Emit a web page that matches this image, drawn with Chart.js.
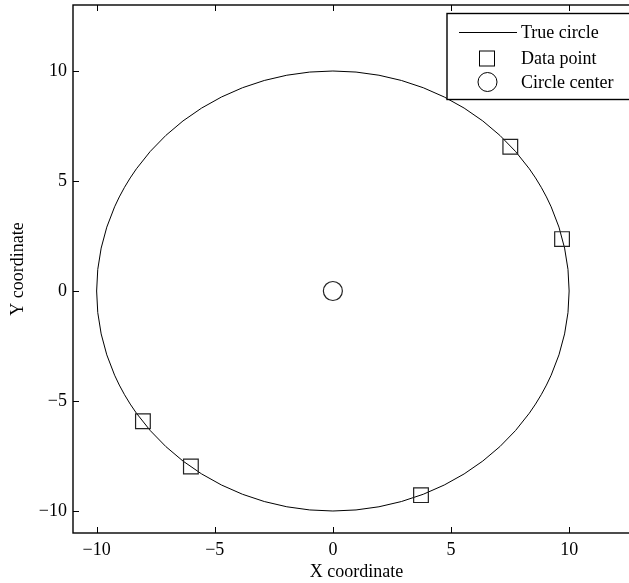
<!DOCTYPE html>
<html>
<head>
<meta charset="utf-8">
<script src="https://cdn.jsdelivr.net/npm/chart.js@4/dist/chart.umd.min.js"></script>
<style>
  html, body { margin: 0; padding: 0; background: #fff; overflow: hidden; }
  #wrap { width: 640px; min-width: 640px; height: 583px; }
  #c { width: 640px; height: 583px; display: block; }
</style>
</head>
<body>
<div id="wrap"><canvas id="c" width="640" height="583"></canvas></div>
<script>
  // measured points around the circle
  const dataX = [7.51, 9.70, -8.04, -6.01, 3.73];
  const dataY = [6.56, 2.36, -5.92, -7.98, -9.28];
  const centerX = [0];
  const centerY = [0];
  const circleRadius = 10;
  const xTicks = [-10, -5, 0, 5, 10];
  const yTicks = [-10, -5, 0, 5, 10];
  const legendLabels = ['True circle', 'Data point', 'Circle center'];

  const FONT = 'Liberation Serif';

  function fmt(v) {
    return v < 0 ? '\u2212' + Math.abs(v) : String(v);
  }

  const framePlugin = {
    id: 'frame',
    beforeDatasetsDraw: function (chart) {
      const ctx = chart.ctx;
      const xs = chart.scales.x, ys = chart.scales.y;
      const cx = xs.getPixelForValue(centerX[0]);
      const cy = ys.getPixelForValue(centerY[0]);
      const rx = xs.getPixelForValue(centerX[0] + circleRadius) - cx;
      const ry = cy - ys.getPixelForValue(centerY[0] + circleRadius);
      ctx.save();
      ctx.strokeStyle = '#000';
      ctx.lineWidth = 1;
      ctx.beginPath();
      ctx.ellipse(cx, cy, rx, ry, 0, 0, Math.PI * 2);
      ctx.stroke();
      ctx.restore();
    },
    afterDraw: function (chart) {
      const ctx = chart.ctx;
      const a = chart.chartArea;
      const xs = chart.scales.x, ys = chart.scales.y;
      ctx.save();
      ctx.strokeStyle = '#000';
      ctx.lineWidth = 1.4;
      ctx.strokeRect(a.left, a.top, a.right - a.left, a.bottom - a.top);
      ctx.lineWidth = 1;
      ctx.beginPath();
      xTicks.forEach(function (t) {
        const px = Math.round(xs.getPixelForValue(t)) + 0.5;
        ctx.moveTo(px, a.bottom); ctx.lineTo(px, a.bottom - 6);
        ctx.moveTo(px, a.top); ctx.lineTo(px, a.top + 6);
      });
      yTicks.forEach(function (t) {
        const py = Math.round(ys.getPixelForValue(t)) + 0.5;
        ctx.moveTo(a.left, py); ctx.lineTo(a.left + 6, py);
        ctx.moveTo(a.right, py); ctx.lineTo(a.right - 6, py);
      });
      ctx.stroke();

      // legend box
      const lx = 447, ly = 13.5, lw = 220, lh = 86;
      ctx.fillStyle = '#fff';
      ctx.fillRect(lx, ly, lw, lh);
      ctx.lineWidth = 1.4;
      ctx.strokeRect(lx, ly, lw, lh);
      const rows = [32, 58, 82];
      ctx.lineWidth = 1;
      ctx.beginPath();
      ctx.moveTo(459, rows[0] + 0.5); ctx.lineTo(517, rows[0] + 0.5);
      ctx.stroke();
      ctx.strokeRect(479.5, rows[1] - 7, 15, 15);
      ctx.beginPath();
      ctx.arc(487.5, rows[2], 9.5, 0, Math.PI * 2);
      ctx.stroke();
      ctx.fillStyle = '#000';
      ctx.font = '18px "' + FONT + '"';
      ctx.textAlign = 'left';
      ctx.textBaseline = 'middle';
      legendLabels.forEach(function (s, i) {
        ctx.fillText(s, 521, rows[i] + 1);
      });
      ctx.restore();
    }
  };

  const pointsData = dataX.map(function (x, i) { return { x: x, y: dataY[i] }; });
  const centerData = centerX.map(function (x, i) { return { x: x, y: centerY[i] }; });

  new Chart(document.getElementById('c'), {
    type: 'scatter',
    data: {
      datasets: [
        {
          label: legendLabels[1],
          data: pointsData,
          pointStyle: 'rect',
          radius: 10.4,
          borderColor: '#222',
          borderWidth: 1.2,
          backgroundColor: 'rgba(0,0,0,0)'
        },
        {
          label: legendLabels[2],
          data: centerData,
          pointStyle: 'circle',
          radius: 9.5,
          borderColor: '#222',
          borderWidth: 1.2,
          backgroundColor: 'rgba(0,0,0,0)'
        }
      ]
    },
    options: {
      responsive: false,
      animation: false,
      layout: { autoPadding: false, padding: { top: 5, right: 0, left: 0, bottom: 0 } },
      plugins: {
        legend: { display: false },
        tooltip: { enabled: false }
      },
      scales: {
        x: {
          type: 'linear',
          min: -11,
          max: 13,
          grid: { display: false, drawTicks: false },
          border: { display: false },
          afterBuildTicks: function (s) { s.ticks = xTicks.map(function (v) { return { value: v }; }); },
          afterFit: function (s) {
            s.height = 50;
            s.paddingLeft = 0; s.paddingRight = 0;
          },
          ticks: {
            color: '#000',
            padding: 6,
            font: { family: FONT, size: 18 },
            callback: function (v) { return fmt(v); }
          },
          title: {
            display: true,
            text: 'X coordinate',
            color: '#000',
            padding: { top: 0, bottom: 0 },
            font: { family: FONT, size: 18 }
          }
        },
        y: {
          type: 'linear',
          min: -11,
          max: 13,
          grid: { display: false, drawTicks: false },
          border: { display: false },
          afterBuildTicks: function (s) { s.ticks = yTicks.map(function (v) { return { value: v }; }); },
          afterFit: function (s) {
            s.width = 73;
            s.paddingTop = 0; s.paddingBottom = 0;
          },
          ticks: {
            color: '#000',
            padding: 6,
            font: { family: FONT, size: 18 },
            callback: function (v) { return fmt(v); }
          },
          title: {
            display: true,
            text: 'Y coordinate',
            color: '#000',
            padding: { top: 7, bottom: 0 },
            font: { family: FONT, size: 18 }
          }
        }
      }
    },
    plugins: [framePlugin]
  });
</script>
</body>
</html>
